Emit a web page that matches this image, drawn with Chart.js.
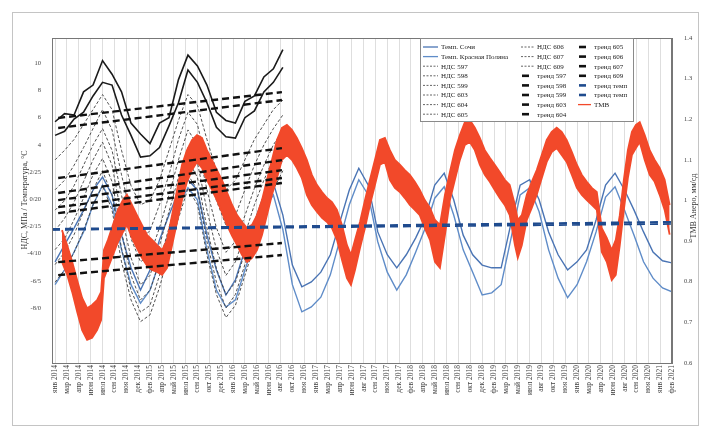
<!DOCTYPE html>
<html>
<head>
<meta charset="utf-8">
<script src="https://cdn.jsdelivr.net/npm/chart.js@4.4.0/dist/chart.umd.min.js"></script>
<style>
  html, body { margin: 0; background: #fff; }
</style>
</head>
<body>
<canvas id="myChart" width="710" height="434"></canvas>
<script>
// Axis ticks
const tickDays = [0,50,100,150,200,250,300,350,400,450,500,550,600,650,700,750,800,850,900,950,1000,1050,1100,1150,1200,1250,1300,1350,1400,1450,1500,1550,1600,1650,1700,1750,1800,1850,1900,1950,2000,2050,2100,2150,2200,2250,2300,2350,2400,2450,2500,2550,2600];
const tickLabels = ['янв 2014','мар 2014','апр 2014','июн 2014','июл 2014','сен 2014','ноя 2014','дек 2014',
  'фев 2015','апр 2015','май 2015','июл 2015','сен 2015','окт 2015','дек 2015',
  'янв 2016','мар 2016','май 2016','июн 2016','авг 2016','окт 2016','ноя 2016',
  'янв 2017','мар 2017','апр 2017','июн 2017','авг 2017','сен 2017','ноя 2017','дек 2017',
  'фев 2018','апр 2018','май 2018','июл 2018','сен 2018','окт 2018','дек 2018',
  'фев 2019','мар 2019','май 2019','июл 2019','авг 2019','окт 2019','ноя 2019',
  'янв 2020','мар 2020','апр 2020','июн 2020','авг 2020','сен 2020','ноя 2020',
  'янв 2021','фев 2021'];
const leftTickValues = [-8,-6,-4,-2,0,2,4,6,8,10];
const leftTickLabels = ['-8/0','-6/5','-4/10','-2/15','0/20','2/25','4','6','8','10'];
const rightTickValues = [0.6,0.7,0.8,0.9,1.0,1.1,1.2,1.3,1.4];
const rightTickLabels = ['0.6','0.7','0.8','0.9','1','1.1','1.2','1.3','1.4'];

// Temperature, °C (days from first tick)
const tempDays = [0,40,80,120,160,200,240,280,320,360,400,440,480,520,560,600,640,680,720,760,800,840,880,920,960,1000,1040,1080,1120,1160,1200,1240,1280,1320,1360,1400,1440,1480,1520,1560,1600,1640,1680,1720,1760,1800,1840,1880,1920,1960,2000,2040,2080,2120,2160,2200,2240,2280,2320,2360,2400,2440,2480,2520,2560,2600];
const tempSochi = [8.5,11.6,14.7,18.0,21.7,24.1,20.8,13.4,7.4,3.3,
  7.0,12.5,17.1,21.3,23.6,21.7,13.4,7.0,2.4,5.2,
  10.7,15.8,20.8,23.0,17.1,7.9,3.9,4.8,6.6,9.8,
  15.8,21.7,25.7,22.6,14.0,9.8,7.4,9.8,12.9,16.6,
  22.6,24.8,19.9,13.4,9.8,7.9,7.4,7.4,15.3,22.6,
  23.6,19.9,14.0,9.8,7.0,8.5,10.7,16.2,22.6,24.8,
  21.7,18.0,14.0,10.3,8.7,8.3];
const tempPolyana = [4.3,7.0,10.3,14.0,19.0,22.6,19.0,10.7,4.3,0.9,
  3.3,8.5,14.0,19.0,22.1,19.9,10.7,3.3,0.2,1.5,
  7.0,12.2,18.0,20.8,14.4,4.3,-0.7,0.2,2.0,6.1,
  12.5,19.0,23.6,20.8,12.2,6.6,3.3,6.1,10.3,14.7,
  20.2,22.3,17.1,10.7,6.6,2.4,2.8,4.3,12.5,20.8,
  22.1,17.7,10.7,5.5,1.9,4.3,8.5,14.0,20.4,22.3,
  18.0,13.4,8.5,5.5,3.7,3.0];

// НДС, МПа
const ndsDays = [0,40,80,120,160,200,240,280,320,360,400,440,480,520,560,600,640,680,720,760,800,840,880,920,960];
const nds597 = [5.7,6.3,6.2,7.9,8.4,10.2,9.2,7.9,5.6,4.8,4.1,5.6,6.0,8.8,10.6,9.8,8.4,6.4,5.8,5.6,7.2,7.6,9.0,9.6,11.0];
const nds598 = [4.7,5.0,5.9,6.4,7.6,8.6,8.4,6.2,4.7,3.1,3.2,3.8,5.4,7.1,9.5,8.6,7.1,5.3,4.6,4.5,6.0,6.5,7.9,8.6,9.7];
const nds599 = [2.9,3.6,4.4,5.5,6.6,7.7,6.6,3.6,1.0,-0.4,-0.1,1.4,3.6,5.8,7.7,6.9,4.4,2.1,0.7,1.4,2.9,4.4,5.5,6.6,7.3];
const nds603 = [0.7,1.4,2.5,3.8,5.2,6.6,5.1,1.8,-1.2,-3.0,-2.3,-0.4,1.8,4.4,6.4,5.5,2.5,-0.1,-1.9,-1.2,0.7,2.5,4.0,5.2,6.2];
const nds604 = [-0.8,-0.1,1.0,2.5,4.0,5.2,3.6,0.3,-2.9,-4.6,-4.1,-2.1,0.3,2.9,5.1,4.0,0.7,-2.1,-3.9,-3.1,-1.2,0.8,2.5,4.0,5.1];
const nds605 = [-2.3,-1.4,-0.2,1.3,2.9,4.2,2.5,-1.2,-4.3,-6.3,-5.6,-3.4,-0.9,1.6,3.8,2.7,-0.8,-3.7,-5.6,-4.6,-2.6,-0.4,1.4,3.0,4.4];
const nds606 = [-3.7,-2.9,-1.5,0.1,1.8,3.0,1.3,-2.4,-5.6,-7.4,-6.7,-4.6,-2.1,0.5,2.9,1.6,-2.1,-5.1,-7.0,-6.1,-3.9,-1.7,0.3,2.1,3.6];
const nds607 = [-4.8,-3.9,-2.6,-0.9,0.7,2.1,0.3,-3.6,-6.7,-8.3,-7.8,-5.6,-3.0,-0.4,1.8,0.7,-3.1,-6.1,-8.0,-7.0,-4.8,-2.6,-0.4,1.4,2.9];
const nds609 = [-6.1,-5.2,-3.9,-2.3,-0.4,1.0,-0.8,-4.6,-7.4,-9.0,-8.5,-6.5,-3.9,-1.4,0.8,-0.4,-4.1,-7.0,-8.7,-7.8,-5.6,-3.4,-1.2,0.7,2.1];

// Trends (start, end)
const trendDays = [13, 956];
const trendNames = ['597','598','599','603','604','605','606','607','609'];
const trendStart = [5.98,5.24,1.56,0.46,-0.06,-0.58,-1.02,-4.62,-5.58];
const trendEnd = [7.88,7.30,3.76,2.88,2.14,1.56,1.20,-3.22,-4.10];
const tempTrendDays = [-13, 2600];
const tempTrendA = [14.5, 15.8];
const tempTrendB = [14.35, 15.45];

// ТМВ (upper / lower edge of the noisy band)
const tmvDays = [29,51,72,93,114,135,156,177,194,206,223,244,265,286,303,324,345,366,388,409,
  430,451,472,493,514,535,556,577,598,619,640,661,682,703,724,746,767,788,809,830,
  851,872,893,914,935,956,977,998,1019,1040,1061,1082,1104,1125,1146,1167,1188,1209,1230,1247,
  1264,1285,1306,1327,1348,1369,1390,1411,1432,1453,1474,1495,1516,1537,1558,1580,1601,1622,1643,1664,
  1685,1706,1727,1748,1769,1790,1811,1832,1853,1874,1895,1916,1938,1950,1967,1988,2009,2030,2051,2072,
  2093,2114,2135,2156,2178,2199,2220,2241,2262,2283,2304,2325,2346,2363,2380,2397,2414,2431,2448,2464,
  2485,2506,2527,2548,2569,2590];
const tmvHigh = [0.927,0.890,0.849,0.804,0.760,0.735,0.743,0.755,0.775,0.878,
  0.903,0.940,0.977,1.001,1.014,0.989,0.964,0.940,0.915,0.903,
  0.890,0.878,0.903,0.964,1.026,1.088,1.124,1.149,1.161,1.154,
  1.124,1.100,1.075,1.051,1.021,0.989,0.964,0.947,0.932,0.940,
  0.964,1.001,1.051,1.100,1.149,1.179,1.186,1.174,1.154,1.129,
  1.100,1.063,1.038,1.021,1.006,0.996,0.977,0.940,0.890,0.866,
  0.903,0.947,1.001,1.051,1.100,1.149,1.154,1.124,1.100,1.088,
  1.075,1.063,1.046,1.026,1.001,0.982,0.952,0.940,1.014,1.070,
  1.124,1.161,1.193,1.198,1.179,1.154,1.124,1.105,1.088,1.070,
  1.051,1.038,0.989,0.952,0.964,1.014,1.046,1.075,1.112,1.149,
  1.169,1.179,1.169,1.149,1.119,1.088,1.063,1.046,1.031,1.021,
  0.932,0.908,0.878,0.903,0.964,1.051,1.124,1.169,1.186,1.193,
  1.161,1.124,1.100,1.080,1.051,0.989];
const tmvLow = [0.849,0.817,0.775,0.726,0.681,0.657,0.662,0.681,0.706,0.809,
  0.834,0.866,0.898,0.922,0.940,0.908,0.883,0.859,0.839,0.829,
  0.824,0.817,0.834,0.890,0.947,1.001,1.046,1.075,1.095,1.080,
  1.051,1.026,1.001,0.972,0.940,0.913,0.890,0.866,0.849,0.859,
  0.878,0.915,0.964,1.014,1.055,1.100,1.112,1.100,1.080,1.055,
  1.014,0.989,0.972,0.957,0.947,0.932,0.903,0.854,0.809,0.792,
  0.829,0.883,0.932,0.989,1.038,1.088,1.095,1.051,1.031,1.021,
  1.006,0.989,0.977,0.964,0.932,0.903,0.849,0.834,0.915,1.001,
  1.051,1.100,1.137,1.144,1.124,1.088,1.063,1.046,1.026,1.006,
  0.989,0.964,0.890,0.859,0.890,0.952,0.982,1.014,1.055,1.095,
  1.119,1.129,1.112,1.095,1.063,1.031,1.014,1.001,0.989,0.977,
  0.873,0.849,0.804,0.817,0.890,0.977,1.055,1.112,1.129,1.144,
  1.100,1.063,1.046,1.014,0.977,0.916];

// Styles
const FONT = '"Liberation Serif", "DejaVu Serif", serif';
const blueSochi = '#4a74b4';
const bluePolyana = '#5f8cc8';
const ndsColor = '#3c3c3c';
const trendColor = '#111';
const tempTrendColor = '#1f4b8e';
const tmvColor = '#f2492a';

const pts = (xs, ys) => ys.map((y, i) => ({ x: xs[i], y: y }));

const ndsSeries = [
  ['НДС 597', nds597], ['НДС 598', nds598], ['НДС 599', nds599], ['НДС 603', nds603], ['НДС 604', nds604],
  ['НДС 605', nds605], ['НДС 606', nds606], ['НДС 607', nds607], ['НДС 609', nds609]
];

const datasets = [];
// trends on top
trendNames.forEach((n, i) => {
  datasets.push({ label: 'тренд ' + n, data: pts(trendDays, [trendStart[i], trendEnd[i]]), yAxisID: 'y',
    borderColor: trendColor, borderWidth: 2.4, borderDash: [7, 4], order: 0 });
});
datasets.push({ label: 'тренд темп', data: pts(tempTrendDays, tempTrendA), yAxisID: 'yT',
  borderColor: tempTrendColor, borderWidth: 2.4, borderDash: [8, 5], order: 0 });
datasets.push({ label: 'тренд темп', data: pts(tempTrendDays, tempTrendB), yAxisID: 'yT',
  borderColor: tempTrendColor, borderWidth: 1.6, borderDash: [8, 5], order: 0 });
// ТМВ band
datasets.push({ label: 'ТМВ', data: pts(tmvDays, tmvHigh), yAxisID: 'yR',
  borderColor: tmvColor, borderWidth: 1.8, order: 1 });
datasets.push({ label: 'ТМВ low', data: pts(tmvDays, tmvLow), yAxisID: 'yR',
  borderColor: tmvColor, borderWidth: 1.8, backgroundColor: tmvColor, fill: '-1', order: 1 });
// НДС
ndsSeries.forEach(([n, arr], i) => {
  datasets.push({ label: n, data: pts(ndsDays, arr), yAxisID: 'y',
    borderColor: i < 2 ? '#1a1a1a' : ndsColor, borderWidth: i < 2 ? 1.6 : 0.9,
    borderDash: i < 2 ? [] : [3, 2], order: 2 });
});
// temperatures
datasets.push({ label: 'Темп. Сочи', data: pts(tempDays, tempSochi), yAxisID: 'yT',
  borderColor: blueSochi, borderWidth: 1.4, order: 3 });
datasets.push({ label: 'Темп. Красная Поляна', data: pts(tempDays, tempPolyana), yAxisID: 'yT',
  borderColor: bluePolyana, borderWidth: 1.4, order: 3 });

// Legend entries (3 columns)
const legendCols = [
  { x: 423, len: 15, items: [
    ['Темп. Сочи', 'line', blueSochi], ['Темп. Красная Поляна', 'line', bluePolyana],
    ['НДС 597', 'dash', ndsColor], ['НДС 598', 'dash', ndsColor], ['НДС 599', 'dash', ndsColor],
    ['НДС 603', 'dash', ndsColor], ['НДС 604', 'dash', ndsColor], ['НДС 605', 'dash', ndsColor]] },
  { x: 521, len: 13, items: [
    ['НДС 606', 'dash', ndsColor], ['НДС 607', 'dash', ndsColor], ['НДС 609', 'dash', ndsColor],
    ['тренд 597', 'thick', trendColor], ['тренд 598', 'thick', trendColor], ['тренд 599', 'thick', trendColor],
    ['тренд 603', 'thick', trendColor], ['тренд 604', 'thick', trendColor]] },
  { x: 578, len: 13, items: [
    ['тренд 605', 'thick', trendColor], ['тренд 606', 'thick', trendColor], ['тренд 607', 'thick', trendColor],
    ['тренд 609', 'thick', trendColor], ['тренд темп', 'thick', tempTrendColor], ['тренд темп', 'thick', tempTrendColor],
    ['ТМВ', 'line', tmvColor]] }
];

const decor = {
  id: 'decor',
  beforeDraw(chart) {
    const c = chart.ctx;
    c.save();
    c.fillStyle = '#fff';
    c.fillRect(0, 0, chart.width, chart.height);
    c.strokeStyle = '#c4c4c4';
    c.lineWidth = 1;
    c.strokeRect(12.5, 12.5, 686, 413);
    c.restore();
  },
  afterDraw(chart) {
    const c = chart.ctx;
    const a = chart.chartArea;
    c.save();
    c.strokeStyle = '#777';
    c.lineWidth = 1;
    c.strokeRect(a.left + 0.5, a.top + 0.5, a.right - a.left - 1, a.bottom - a.top);

    // axis titles
    c.fillStyle = '#333';
    c.font = '8px ' + FONT;
    c.textAlign = 'center';
    c.textBaseline = 'middle';
    c.save();
    c.translate(25, 200);
    c.rotate(-Math.PI / 2);
    c.fillText('НДС, МПа / Температура, °С', 0, 0);
    c.restore();
    c.save();
    c.translate(694, 206);
    c.rotate(-Math.PI / 2);
    c.fillText('ТМВ Анеро, мм/сд', 0, 0);
    c.restore();

    // legend
    const lx = 420, ly = 38, lw = 213, lh = 83;
    c.fillStyle = '#fff';
    c.fillRect(lx, ly, lw, lh);
    c.strokeStyle = '#8a8a8a';
    c.strokeRect(lx + 0.5, ly + 0.5, lw, lh);
    c.font = '7px ' + FONT;
    c.textAlign = 'left';
    legendCols.forEach(col => {
      col.items.forEach(([text, kind, color], r) => {
        const y = ly + 9 + r * 9.6;
        c.beginPath();
        c.strokeStyle = color;
        if (kind === 'thick') {
          c.lineWidth = 2.6; c.setLineDash([]);
          c.moveTo(col.x + 1, y); c.lineTo(col.x + 8, y);
        } else if (kind === 'dash') {
          c.lineWidth = 0.8; c.setLineDash([2, 1.5]);
          c.moveTo(col.x, y); c.lineTo(col.x + col.len, y);
        } else {
          c.lineWidth = 1.3; c.setLineDash([]);
          c.moveTo(col.x, y); c.lineTo(col.x + col.len, y);
        }
        c.stroke();
        c.setLineDash([]);
        c.fillStyle = '#222';
        c.fillText(text, col.x + col.len + 3, y + 0.5);
      });
    });
    c.restore();
  }
};

const ctx = document.getElementById('myChart').getContext('2d');
const chart = new Chart(ctx, {
  type: 'line',
  data: { datasets: datasets },
  options: {
    responsive: false,
    animation: false,
    devicePixelRatio: 1,
    layout: { padding: { top: 38, left: 0, right: 0, bottom: 0 } },
    elements: { point: { radius: 0 }, line: { tension: 0 } },
    plugins: { legend: { display: false }, tooltip: { enabled: false } },
    scales: {
      x: {
        type: 'linear', position: 'bottom', min: -13, max: 2600,
        afterBuildTicks: s => { s.ticks = tickDays.map(v => ({ value: v })); },
        afterFit: s => { s.height = 71; },
        ticks: {
          autoSkip: false, minRotation: 90, maxRotation: 90, padding: 2,
          font: { family: FONT, size: 7.5 }, color: '#444',
          callback: (v, i) => tickLabels[i]
        },
        grid: { color: 'rgba(0,0,0,0.13)', drawTicks: false },
        border: { color: '#777' }
      },
      y: {
        type: 'linear', position: 'left', min: -12.04, max: 11.86,
        afterBuildTicks: s => { s.ticks = leftTickValues.map(v => ({ value: v })); },
        afterFit: s => { s.width = 52; },
        ticks: { font: { family: FONT, size: 6.5 }, color: '#444', padding: 3,
          callback: (v, i) => leftTickLabels[i] },
        grid: { display: false },
        border: { color: '#777' }
      },
      yT: { type: 'linear', display: false, min: -10.1, max: 49.65 },
      yR: {
        type: 'linear', position: 'right', min: 0.6, max: 1.4,
        afterBuildTicks: s => { s.ticks = rightTickValues.map(v => ({ value: v })); },
        afterFit: s => { s.width = 38; },
        ticks: { font: { family: FONT, size: 6.5 }, color: '#444', padding: 4,
          callback: (v, i) => rightTickLabels[i] },
        grid: { display: false },
        border: { color: '#777' }
      }
    }
  },
  plugins: [decor]
});
</script>
</body>
</html>
